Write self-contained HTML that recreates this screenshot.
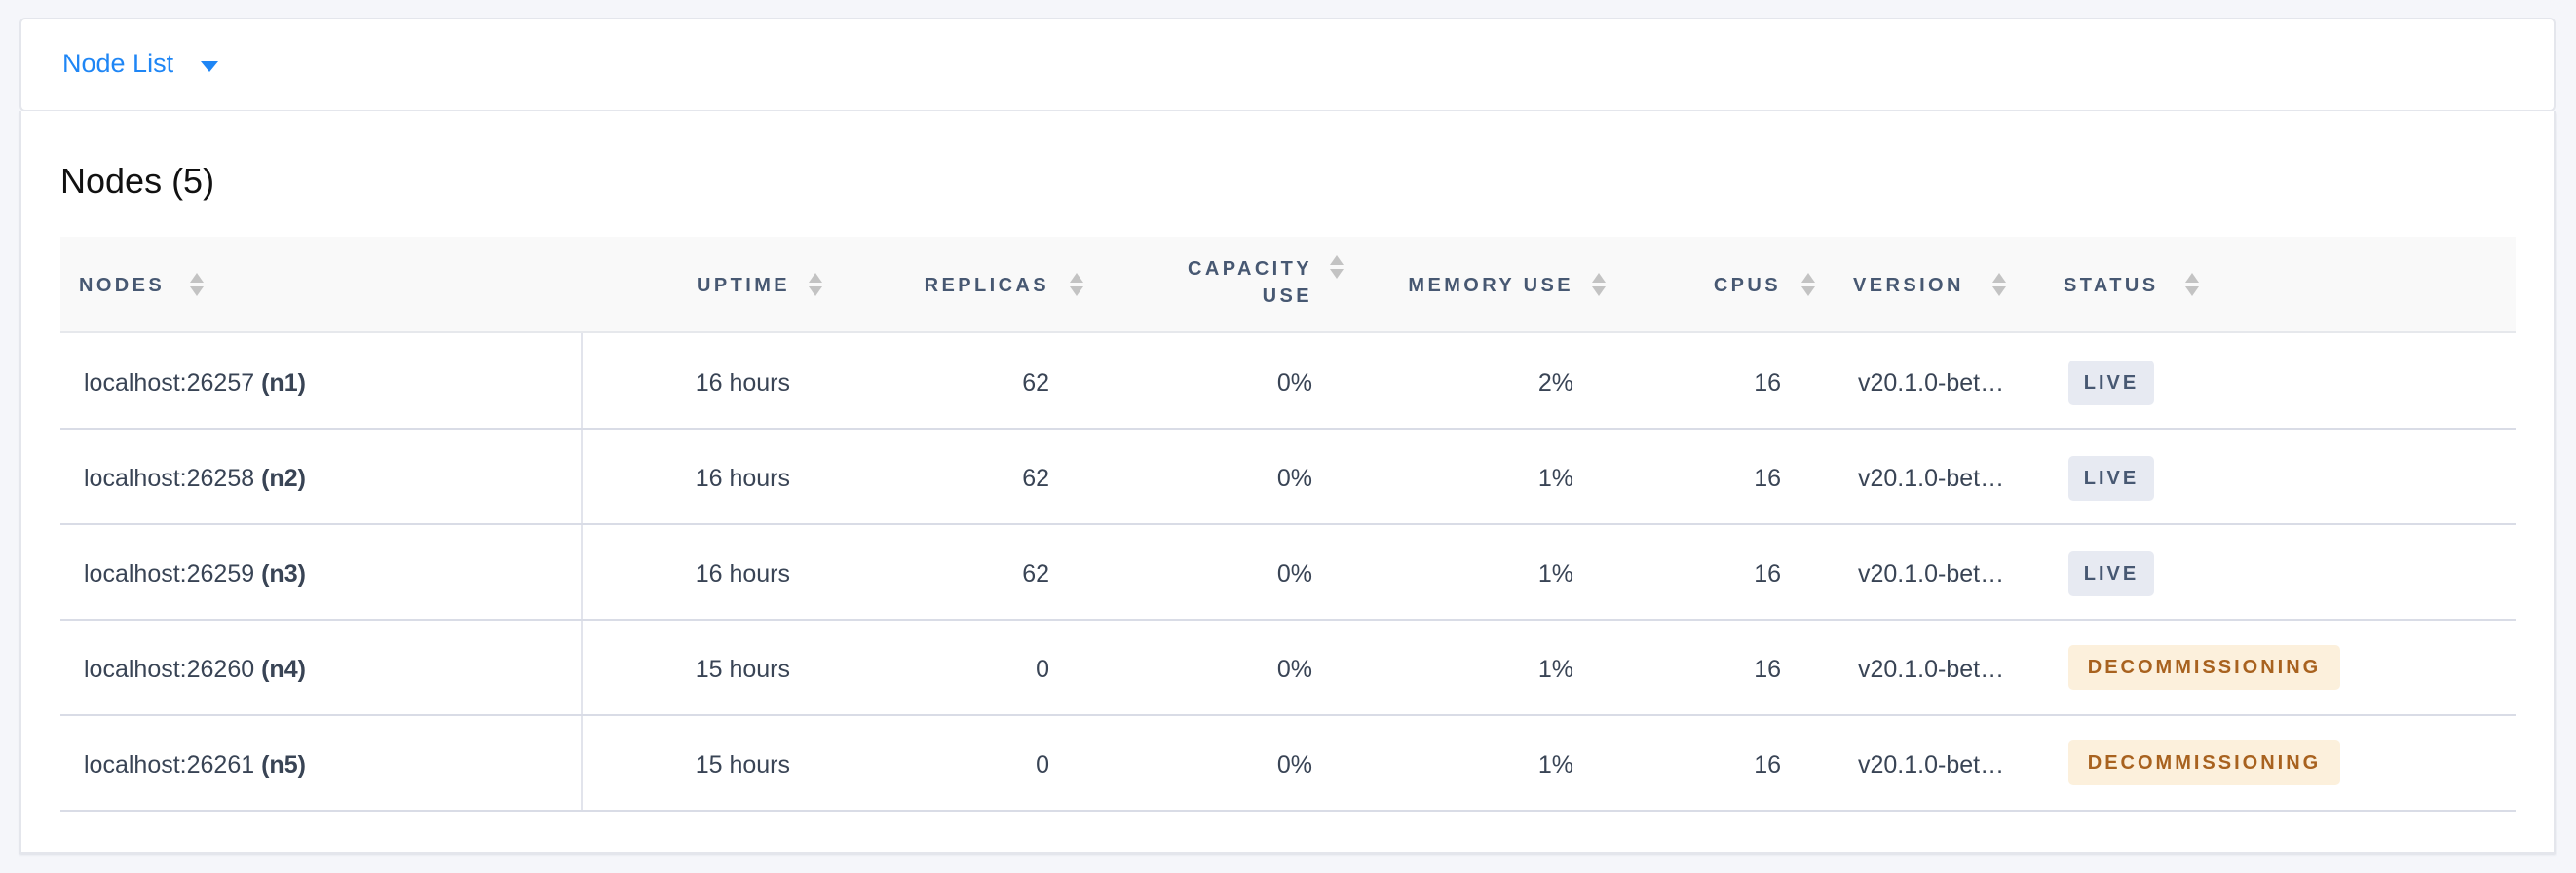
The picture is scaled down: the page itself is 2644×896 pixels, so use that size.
<!DOCTYPE html>
<html><head><meta charset="utf-8"><style>
*{box-sizing:border-box;margin:0;padding:0}
body{width:2644px;height:896px;background:#f5f6fa;font-family:"Liberation Sans",sans-serif;position:relative;overflow:hidden}
.card1{position:absolute;left:20px;top:18px;width:2603px;height:97px;background:#fff;border:2px solid #e4e6ec;border-radius:6px}
.card2{position:absolute;left:20px;top:114px;width:2603px;height:762px;background:#fff;border:2px solid #e4e6ec;border-top:none;box-shadow:0 2px 2px #dcdfe6}
.a{position:absolute;white-space:nowrap}
.nl{left:64px;top:50px;font-size:27px;color:#1f86f5}
.tri{left:206px;top:63px;width:0;height:0;border-left:9px solid transparent;border-right:9px solid transparent;border-top:11px solid #1f86f5}
.h1{left:62px;top:165px;font-size:36px;color:#111}
.hb{position:absolute;left:62px;top:243px;width:2520px;height:99px;background:#f9f9f9;border-bottom:2px solid #e6e8ec}
.th{position:absolute;font-size:20px;font-weight:bold;letter-spacing:3.4px;color:#475872;line-height:28px}
.sort{position:absolute;width:14px;height:26px}
.sort:before{content:"";position:absolute;left:0;top:0;border-left:7px solid transparent;border-right:7px solid transparent;border-bottom:10px solid #c3c3c3}
.sort:after{content:"";position:absolute;left:0;top:14px;border-left:7px solid transparent;border-right:7px solid transparent;border-top:10px solid #c3c3c3}
.line{position:absolute;left:62px;width:2520px;height:2px;background:#d9dce6}
.td{position:absolute;font-size:25px;color:#394455;line-height:30px}
.r{text-align:right}
.badge{position:absolute;left:2123px;height:46px;border-radius:5px;font-size:20px;font-weight:bold;letter-spacing:3px;line-height:46px;text-align:center}
.live{width:88px;background:#e7eaf2;color:#475872}
.dec{width:279px;background:#fcf0dc;color:#a8621f}
.vd{position:absolute;left:596px;top:342px;width:2px;height:490px;background:#e2e4ec}
</style></head><body>
<div class="card1"></div>
<div class="card2"></div>
<div class="a nl">Node List</div>
<div class="a tri"></div>
<div class="a h1">Nodes (5)</div>
<div class="hb"></div>

<div class="th" style="left:81px;top:279px">NODES</div><div class="sort" style="left:195px;top:280px"></div>
<div class="th r" style="right:1833px;top:279px">UPTIME</div><div class="sort" style="left:830px;top:280px"></div>
<div class="th r" style="right:1567px;top:279px">REPLICAS</div><div class="sort" style="left:1098px;top:280px"></div>
<div class="th r" style="right:1297px;top:262px;text-align:right">CAPACITY<br>USE</div><div class="sort" style="left:1365px;top:262px"></div>
<div class="th r" style="right:1029px;top:279px">MEMORY USE</div><div class="sort" style="left:1634px;top:280px"></div>
<div class="th r" style="right:816px;top:279px">CPUS</div><div class="sort" style="left:1849px;top:280px"></div>
<div class="th" style="left:1902px;top:279px">VERSION</div><div class="sort" style="left:2045px;top:280px"></div>
<div class="th" style="left:2118px;top:279px">STATUS</div><div class="sort" style="left:2243px;top:280px"></div>

<div class="vd"></div>
<div class="line" style="top:439px"></div>
<div class="line" style="top:537px"></div>
<div class="line" style="top:635px"></div>
<div class="line" style="top:733px"></div>
<div class="line" style="top:831px"></div>

<!-- rows -->
<div class="td" style="left:86px;top:378px">localhost:26257 <b>(n1)</b></div>
<div class="td r" style="right:1833px;top:378px">16 hours</div>
<div class="td r" style="right:1567px;top:378px">62</div>
<div class="td r" style="right:1297px;top:378px">0%</div>
<div class="td r" style="right:1029px;top:378px">2%</div>
<div class="td r" style="right:816px;top:378px">16</div>
<div class="td" style="left:1907px;top:378px">v20.1.0-bet…</div>
<div class="badge live" style="top:370px">LIVE</div>

<div class="td" style="left:86px;top:476px">localhost:26258 <b>(n2)</b></div>
<div class="td r" style="right:1833px;top:476px">16 hours</div>
<div class="td r" style="right:1567px;top:476px">62</div>
<div class="td r" style="right:1297px;top:476px">0%</div>
<div class="td r" style="right:1029px;top:476px">1%</div>
<div class="td r" style="right:816px;top:476px">16</div>
<div class="td" style="left:1907px;top:476px">v20.1.0-bet…</div>
<div class="badge live" style="top:468px">LIVE</div>

<div class="td" style="left:86px;top:574px">localhost:26259 <b>(n3)</b></div>
<div class="td r" style="right:1833px;top:574px">16 hours</div>
<div class="td r" style="right:1567px;top:574px">62</div>
<div class="td r" style="right:1297px;top:574px">0%</div>
<div class="td r" style="right:1029px;top:574px">1%</div>
<div class="td r" style="right:816px;top:574px">16</div>
<div class="td" style="left:1907px;top:574px">v20.1.0-bet…</div>
<div class="badge live" style="top:566px">LIVE</div>

<div class="td" style="left:86px;top:672px">localhost:26260 <b>(n4)</b></div>
<div class="td r" style="right:1833px;top:672px">15 hours</div>
<div class="td r" style="right:1567px;top:672px">0</div>
<div class="td r" style="right:1297px;top:672px">0%</div>
<div class="td r" style="right:1029px;top:672px">1%</div>
<div class="td r" style="right:816px;top:672px">16</div>
<div class="td" style="left:1907px;top:672px">v20.1.0-bet…</div>
<div class="badge dec" style="top:662px">DECOMMISSIONING</div>

<div class="td" style="left:86px;top:770px">localhost:26261 <b>(n5)</b></div>
<div class="td r" style="right:1833px;top:770px">15 hours</div>
<div class="td r" style="right:1567px;top:770px">0</div>
<div class="td r" style="right:1297px;top:770px">0%</div>
<div class="td r" style="right:1029px;top:770px">1%</div>
<div class="td r" style="right:816px;top:770px">16</div>
<div class="td" style="left:1907px;top:770px">v20.1.0-bet…</div>
<div class="badge dec" style="top:760px">DECOMMISSIONING</div>
</body></html>
